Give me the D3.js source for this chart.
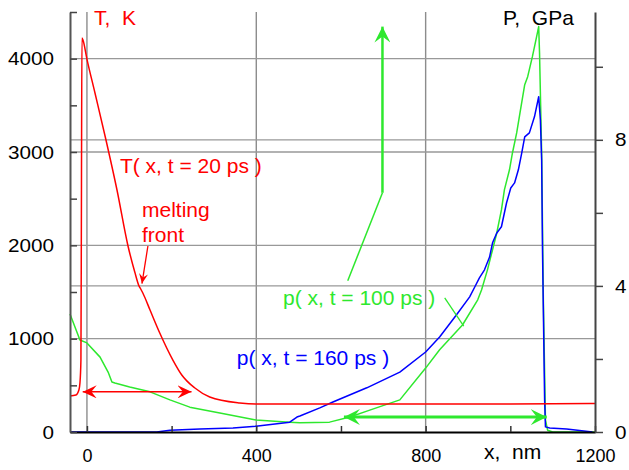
<!DOCTYPE html>
<html>
<head>
<meta charset="utf-8">
<script src="https://cdn.jsdelivr.net/npm/d3@7"></script>
<style>
  body { margin: 0; background: #fff; }
  svg { display: block; font-family: "Liberation Sans", Arial, sans-serif; }
</style>
</head>
<body>
<svg id="chart"></svg>
<script>
// T(x, t = 20 ps): x in nm, T in K
const tempX = [-40, -26, -19, -16.5, -14.2, -13, -11.8, -9.4, 0, 19, 45, 71, 97, 113, 123, 127, 132, 149, 172, 203, 224, 255, 290, 361, 399, 740, 1000, 1100, 1200];
const tempT = [386, 396, 450, 525, 771, 2486, 4221, 4200, 3996, 3632, 3129, 2593, 1993, 1714, 1564, 1532, 1489, 1307, 1061, 771, 611, 471, 375, 311, 300, 300, 300, 302, 306];

// p(x, t = 100 ps): x in nm, p in GPa
const p100X = [-40, -16.5, 0, 31, 50, 59, 66, 101, 149, 196, 243, 314, 399, 479, 503, 573, 621, 668, 739, 800, 833, 887, 923, 932, 946, 958, 968, 979, 986, 998, 1005, 1015, 1024, 1034, 1041, 1052, 1062, 1067, 1069, 1074, 1078, 1083, 1088, 1100, 1200];
const p100P = [3.23, 2.52, 2.44, 2.05, 1.64, 1.37, 1.34, 1.23, 1.10, 0.88, 0.68, 0.52, 0.33, 0.27, 0.25, 0.27, 0.41, 0.60, 0.88, 1.75, 2.25, 2.93, 3.62, 3.89, 4.44, 4.99, 5.45, 6.08, 6.63, 7.18, 7.64, 8.19, 8.82, 9.51, 9.73, 10.27, 10.82, 11.10, 10.38, 7.64, 3.62, 0.33, 0.05, 0.0, 0.0];

// p(x, t = 160 ps)
const p160X = [-40, 165, 196, 267, 345, 399, 479, 496, 503, 550, 581, 661, 739, 800, 833, 873, 904, 916, 927, 939, 951, 958, 968, 979, 991, 1001, 1010, 1019, 1027, 1034, 1045, 1057, 1067, 1071, 1074, 1076, 1081, 1083, 1093, 1133, 1194];
const p160P = [0, 0, 0.05, 0.08, 0.11, 0.16, 0.27, 0.41, 0.44, 0.66, 0.82, 1.21, 1.64, 2.19, 2.60, 3.21, 3.70, 3.97, 4.22, 4.44, 4.79, 5.18, 5.45, 5.62, 6.27, 6.68, 6.82, 7.18, 7.64, 8.08, 8.19, 8.63, 9.18, 8.55, 7.45, 4.99, 0.88, 0.14, 0.11, 0.08, 0];

// ticks
const xTicks = [0, 200, 400, 600, 800, 1000, 1200];
const tTicks = [0, 500, 1000, 1500, 2000, 2500, 3000, 3500, 4000, 4500];
const pTicks = [0, 2, 4, 6, 8, 10];
const xGrid = [0, 400, 800];
const tGrid = [1000, 2000, 3000, 4000];
const pGrid = [4, 8];

const width = 629, height = 470;
const margin = {top: 12, right: 34, bottom: 38, left: 70};

const RED = "#ff0000", GREEN = "#2ee82e", BLUE = "#0000ff";

const svg = d3.select("svg#chart")
    .attr("width", width)
    .attr("height", height);

const x = d3.scaleLinear().domain([-40, 1200]).range([margin.left, width - margin.right]);
const yT = d3.scaleLinear().domain([0, 4500]).range([height - margin.bottom, margin.top]);
const yP = d3.scaleLinear().domain([0, 11.5]).range([height - margin.bottom, margin.top]);

// arrow heads
const defs = svg.append("defs");
function marker(id, color, len, half) {
    defs.append("marker")
        .attr("id", id)
        .attr("viewBox", `${-len} ${-half} ${len} ${2 * half}`)
        .attr("markerWidth", len)
        .attr("markerHeight", 2 * half)
        .attr("markerUnits", "userSpaceOnUse")
        .attr("refX", 0)
        .attr("refY", 0)
        .attr("orient", "auto-start-reverse")
        .append("path")
        .attr("d", `M0,0L${-len},${-half}L${-len * 0.62},0L${-len},${half}Z`)
        .attr("fill", color);
}
marker("headRed", RED, 14, 6.5);
marker("headGreen", GREEN, 16, 8);
marker("headSmall", RED, 10, 4.5);

// grid
const grid = svg.append("g").attr("class", "grid")
    .attr("stroke", "#999")
    .attr("stroke-width", 1.4);

grid.selectAll("line.v")
    .data(xGrid)
    .enter().append("line")
    .attr("class", "v")
    .attr("x1", d => x(d)).attr("x2", d => x(d))
    .attr("y1", margin.top).attr("y2", height - margin.bottom)
    .attr("stroke", "#8c8c8c");

grid.selectAll("line.t")
    .data(tGrid)
    .enter().append("line")
    .attr("class", "t")
    .attr("x1", margin.left).attr("x2", width - margin.right)
    .attr("y1", d => yT(d)).attr("y2", d => yT(d));

grid.selectAll("line.p")
    .data(pGrid)
    .enter().append("line")
    .attr("class", "p")
    .attr("x1", margin.left).attr("x2", width - margin.right)
    .attr("y1", d => yP(d)).attr("y2", d => yP(d));

// curves
const pLine = d3.line().x(d => x(d[0])).y(d => yP(d[1]));
const tLine = d3.line().x(d => x(d[0])).y(d => yT(d[1])).curve(d3.curveMonotoneX);

const curves = svg.append("g").attr("class", "curves")
    .attr("fill", "none")
    .attr("stroke-width", 1.5)
    .attr("stroke-linejoin", "round");

curves.append("path")
    .attr("d", pLine(d3.zip(p100X, p100P)))
    .attr("stroke", GREEN);

curves.append("path")
    .attr("d", pLine(d3.zip(p160X, p160P)))
    .attr("stroke", BLUE);

curves.append("path")
    .attr("d", tLine(d3.zip(tempX, tempT)))
    .attr("stroke", RED);

// tick labels in the original are drawn a bit wide
function widen(sel, perChar) {
    sel.selectAll("text")
        .attr("fill", "#000")
        .attr("font-family", null)
        .filter(function () { return this.textContent !== ""; })
        .attr("textLength", function () { return this.textContent.length * perChar; })
        .attr("lengthAdjust", "spacingAndGlyphs");
}

// axes
const xAxis = svg.append("g")
    .attr("transform", `translate(0,${height - margin.bottom})`)
    .call(d3.axisBottom(x)
        .tickValues(xTicks)
        .tickSize(-6)
        .tickSizeOuter(0)
        .tickPadding(17)
        .tickFormat(d => d % 400 ? "" : d));
xAxis.select(".domain").attr("stroke", "#000").attr("stroke-width", 2);
xAxis.selectAll(".tick line").attr("stroke", "#333").attr("stroke-width", 1.5);
xAxis.selectAll("text").attr("font-size", 18);
widen(xAxis, 10);

const tAxis = svg.append("g")
    .attr("transform", `translate(${margin.left},0)`)
    .call(d3.axisLeft(yT)
        .tickValues(tTicks)
        .tickSize(-7)
        .tickSizeOuter(0)
        .tickPadding(16)
        .tickFormat(d => d % 1000 ? "" : d));
tAxis.select(".domain").attr("stroke", "#555").attr("stroke-width", 2);
tAxis.selectAll(".tick line").attr("stroke", "#444").attr("stroke-width", 1.5);
tAxis.selectAll("text").attr("font-size", 19);
widen(tAxis, 11.5);

const pAxis = svg.append("g")
    .attr("transform", `translate(${width - margin.right},0)`)
    .call(d3.axisRight(yP)
        .tickValues(pTicks)
        .tickSize(8)
        .tickSizeOuter(0)
        .tickPadding(12)
        .tickFormat(d => d % 4 ? "" : d));
pAxis.select(".domain").attr("stroke", "#444").attr("stroke-width", 2);
pAxis.selectAll(".tick line").attr("stroke", "#444").attr("stroke-width", 1.5);
pAxis.selectAll("text").attr("font-size", 19);
widen(pAxis, 11.5);

// axis titles
function label(px, py, text, color, size) {
    return svg.append("text")
        .attr("x", px)
        .attr("y", py)
        .attr("fill", color)
        .attr("font-size", size)
        .text(text);
}
label(94, 25, "T,\u00a0 K", RED, 21);
label(503, 25, "P,\u00a0 GPa", "#000", 21);
label(484, 459, "x,\u00a0 nm", "#000", 21);

// annotations
const notes = svg.append("g").attr("class", "notes").attr("fill", "none");

// heated layer width
notes.append("line")
    .attr("x1", x(-10)).attr("x2", x(247))
    .attr("y1", yT(430)).attr("y2", yT(430))
    .attr("stroke", RED).attr("stroke-width", 1.5)
    .attr("marker-start", "url(#headRed)")
    .attr("marker-end", "url(#headRed)");

// compressed layer width
notes.append("line")
    .attr("x1", x(607)).attr("x2", x(1086))
    .attr("y1", yP(0.41)).attr("y2", yP(0.41))
    .attr("stroke", GREEN).attr("stroke-width", 3)
    .attr("marker-start", "url(#headGreen)")
    .attr("marker-end", "url(#headGreen)");

// shock direction
notes.append("line")
    .attr("x1", x(698)).attr("x2", x(698))
    .attr("y1", yP(6.55)).attr("y2", yP(11.1))
    .attr("stroke", GREEN).attr("stroke-width", 2.5)
    .attr("marker-end", "url(#headGreen)");

notes.append("line")
    .attr("x1", x(698)).attr("x2", x(616))
    .attr("y1", yP(6.55)).attr("y2", yP(4.14))
    .attr("stroke", GREEN).attr("stroke-width", 1.5);

notes.append("line")
    .attr("x1", x(845)).attr("x2", x(890))
    .attr("y1", yP(3.67)).attr("y2", yP(2.9))
    .attr("stroke", GREEN).attr("stroke-width", 1.3);

// melting front pointer
notes.append("line")
    .attr("x1", x(144)).attr("x2", x(130))
    .attr("y1", yT(1993)).attr("y2", yT(1590))
    .attr("stroke", RED).attr("stroke-width", 1.3)
    .attr("marker-end", "url(#headSmall)");

label(x(78), yT(2775), "T( x, t = 20 ps )", RED, 21);
label(x(130), yT(2304), "melting", RED, 21);
label(x(130), yT(2036), "front", RED, 21);
label(x(463), yP(3.48), "p( x, t = 100 ps )", GREEN, 21);
label(x(354), yP(1.84), "p( x, t = 160 ps )", BLUE, 21);
</script>
</body>
</html>
